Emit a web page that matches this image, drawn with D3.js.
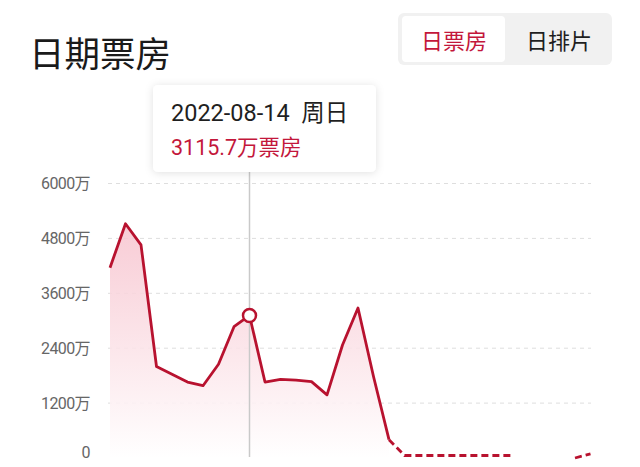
<!DOCTYPE html>
<html>
<head>
<meta charset="utf-8">
<script src="https://cdn.jsdelivr.net/npm/d3@7"></script>
<style>
  body { margin: 0; background: #fff; }
  svg { display: block; font-family: Roboto, "Noto Sans CJK SC", sans-serif; }
</style>
</head>
<body>
<div id="chart"></div>
<script>
// Chart size matches the screenshot
let w = 640;
let h = 467;
// Daily box office, 万 yuan, Aug 5 to Sep 5 2022 (null = no value shown)
let dates = ["08-05","08-06","08-07","08-08","08-09","08-10","08-11","08-12","08-13","08-14",
             "08-15","08-16","08-17","08-18","08-19","08-20","08-21","08-22","08-23","08-24",
             "08-25","08-26","08-27","08-28","08-29","08-30","08-31","09-01","09-02","09-03",
             "09-04","09-05"];
let boxOffice = [4160, 5120, 4660, 2000, 1830, 1660, 1580, 2050, 2870, 3115.7,
                 1660, 1720, 1700, 1670, 1380, 2470, 3280, 1780, 400, 55,
                 55, 55, 55, 55, 55, 55, 55, null, null, null,
                 0, 90];
// Last day with a real (solid) value, the rest is drawn dashed
let lastActual = 18;
let yTicks = [1200, 2400, 3600, 4800, 6000];
let yLabels = ["0", "1200万", "2400万", "3600万", "4800万", "6000万"];
let selected = 9;
let selectedLabel = "2022-08-14  周日";
let selectedValue = "3115.7万票房";
let tabs = ["日票房", "日排片"];

let red = "#b8122f";

let svg = d3.select("#chart").append("svg")
    .attr("width", w)
    .attr("height", h);

// Scales: x is one slot per day, y in 万
let xScale = d3.scalePoint()
    .domain(dates)
    .range([110, 590.5]);
let yScale = d3.scaleLinear()
    .domain([0, 6000])
    .range([458, 183.5]);

// Title
svg.append("text")
    .text("日期票房")
    .attr("x", 29)
    .attr("y", 67)
    .attr("font-size", "35.5px")
    .attr("fill", "#1a1a1a");

// Segmented switch top right
svg.append("rect")
    .attr("x", 398).attr("y", 13)
    .attr("width", 214).attr("height", 52)
    .attr("rx", 6)
    .attr("fill", "#f1f1f1");
svg.append("rect")
    .attr("x", 402).attr("y", 16)
    .attr("width", 103).attr("height", 46)
    .attr("rx", 4)
    .attr("fill", "#fff");
svg.selectAll(".tab")
    .data(tabs)
    .enter()
    .append("text")
    .classed("tab", true)
    .text(d => d)
    .attr("x", (d, i) => i === 0 ? 454 : 559)
    .attr("y", 49)
    .attr("text-anchor", "middle")
    .attr("font-size", "22px")
    .attr("fill", (d, i) => i === 0 ? "#c3173b" : "#1f1f1f");

// Gradient for the area under the line
let defs = svg.append("defs");
let grad = defs.append("linearGradient")
    .attr("id", "areaGrad")
    .attr("x1", 0).attr("y1", 0).attr("x2", 0).attr("y2", 1);
grad.append("stop").attr("offset", "0%").attr("stop-color", "#f7c3ce").attr("stop-opacity", 0.85);
grad.append("stop").attr("offset", "100%").attr("stop-color", "#fff").attr("stop-opacity", 0.9);
let shadow = defs.append("filter")
    .attr("id", "shadow")
    .attr("x", "-20%").attr("y", "-30%").attr("width", "140%").attr("height", "160%");
shadow.append("feDropShadow")
    .attr("dx", 0).attr("dy", 1)
    .attr("stdDeviation", 4)
    .attr("flood-color", "#000")
    .attr("flood-opacity", 0.12);

// Dashed gridlines
svg.selectAll(".grid")
    .data(yTicks)
    .enter()
    .append("line")
    .classed("grid", true)
    .attr("x1", 108)
    .attr("x2", 591)
    .attr("y1", d => yScale(d))
    .attr("y2", d => yScale(d))
    .attr("stroke", "#dedede")
    .attr("stroke-width", 1)
    .attr("stroke-dasharray", "4,4");

// Y axis labels through d3.axisLeft, no domain or tick lines
let yAxis = d3.axisLeft(yScale)
    .tickValues([0].concat(yTicks))
    .tickSize(0)
    .tickPadding(0)
    .tickFormat((d, i) => yLabels[i]);
let yAxisG = svg.append("g")
    .attr("transform", "translate(90,0)")
    .call(yAxis);
yAxisG.select(".domain").remove();
yAxisG.selectAll("text")
    .attr("font-size", "16px")
    .attr("font-family", "Roboto, 'Noto Sans CJK SC', sans-serif")
    .attr("fill", "#666")
    .attr("letter-spacing", "-0.6px");
// the zero label sits a bit higher so it is not cut off
yAxisG.selectAll(".tick").filter(d => d === 0).select("text").attr("dy", "-0.05em");

let points = dates.map((d, i) => ({date: d, value: boxOffice[i], i: i}));
let actual = points.filter(p => p.i <= lastActual);
let forecast = points.filter(p => p.i >= lastActual);

// Area under the actual part
let area = d3.area()
    .x(d => xScale(d.date))
    .y0(yScale(0))
    .y1(d => yScale(d.value));
svg.append("path")
    .datum(actual)
    .attr("d", area)
    .attr("fill", "url(#areaGrad)");

// Crosshair for the selected day
svg.append("line")
    .attr("x1", xScale(dates[selected]))
    .attr("x2", xScale(dates[selected]))
    .attr("y1", 170)
    .attr("y2", 457)
    .attr("stroke", "#c9c9c9")
    .attr("stroke-width", 1.5);

let line = d3.line()
    .defined(d => d.value !== null)
    .x(d => xScale(d.date))
    .y(d => yScale(d.value));

// Solid line for the real values
svg.append("path")
    .datum(actual)
    .attr("d", line)
    .attr("fill", "none")
    .attr("stroke", red)
    .attr("stroke-width", 2.8)
    .attr("stroke-linejoin", "round");

// Dashed line for the rest
svg.append("path")
    .datum(forecast)
    .attr("d", line)
    .attr("fill", "none")
    .attr("stroke", red)
    .attr("stroke-width", 2.8)
    .attr("stroke-dasharray", "7,4");

// Marker on the selected point
svg.append("circle")
    .attr("cx", xScale(dates[selected]))
    .attr("cy", yScale(boxOffice[selected]))
    .attr("r", 6.5)
    .attr("fill", "#fff")
    .attr("stroke", red)
    .attr("stroke-width", 2.5);

// Tooltip card
let tip = svg.append("g");
tip.append("rect")
    .attr("x", 153).attr("y", 85)
    .attr("width", 223).attr("height", 87)
    .attr("rx", 5)
    .attr("fill", "#fff")
    .attr("filter", "url(#shadow)");
tip.append("text")
    .text(selectedLabel)
    .attr("x", 171)
    .attr("y", 121)
    .attr("font-size", "23.5px")
    .attr("fill", "#1f1f1f")
    .style("white-space", "pre");
tip.append("text")
    .text(selectedValue)
    .attr("x", 171)
    .attr("y", 155)
    .attr("font-size", "21.5px")
    .attr("fill", "#c3173b");
</script>
</body>
</html>
